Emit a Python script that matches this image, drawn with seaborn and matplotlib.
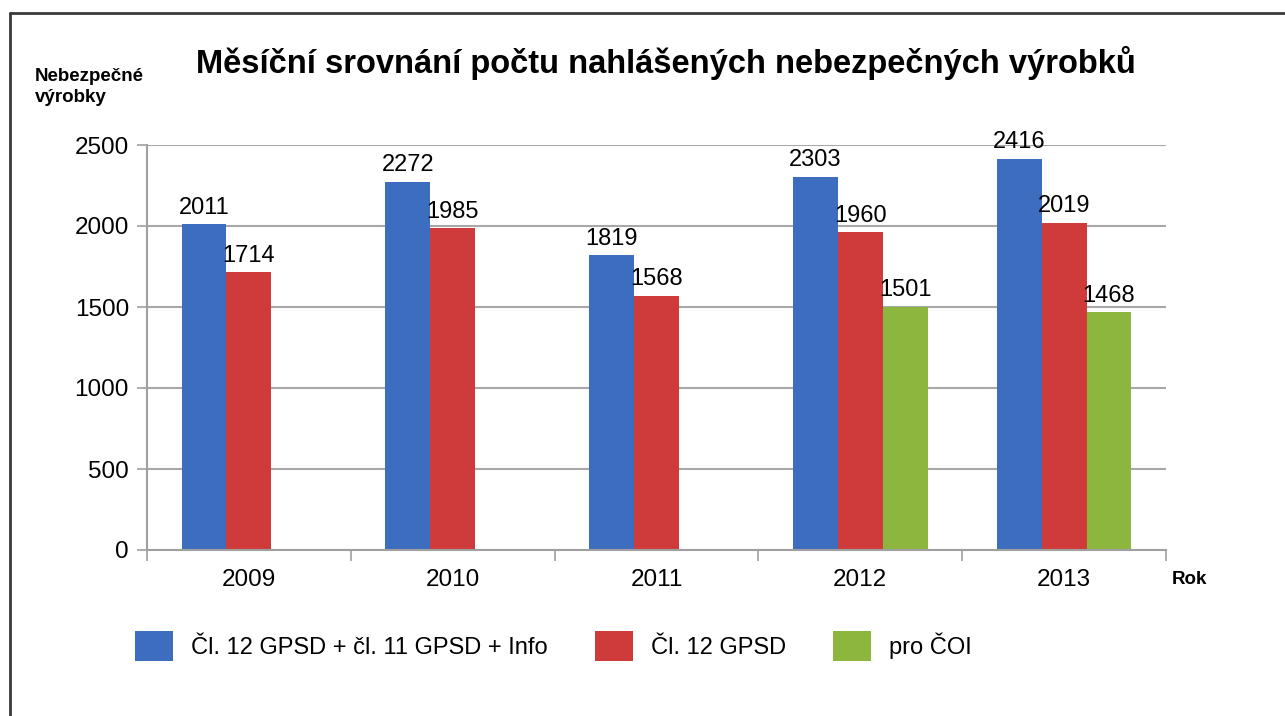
import matplotlib
matplotlib.use("Agg")
import matplotlib.pyplot as plt
import seaborn as sns
import pandas as pd
from matplotlib.patches import Patch
from matplotlib.lines import Line2D

years = ["2009", "2010", "2011", "2012", "2013"]
series_names = ["Čl. 12 GPSD + čl. 11 GPSD + Info", "Čl. 12 GPSD", "pro ČOI"]
vals_total = [2011, 2272, 1819, 2303, 2416]
vals_cl12 = [1714, 1985, 1568, 1960, 2019]
vals_coi_years = ["2012", "2013"]
vals_coi = [1501, 1468]
colors = ["#3D6DBE", "#CF3A3A", "#8CB63E"]
title = "Měsíční srovnání počtu nahlášených nebezpečných výrobků"
ylabel = "Nebezpečné\nvýrobky"
xlabel = "Rok"
yticks = [0, 500, 1000, 1500, 2000, 2500]

rows = []
for y, v in zip(years, vals_total):
    rows.append((y, series_names[0], v))
for y, v in zip(years, vals_cl12):
    rows.append((y, series_names[1], v))
for y, v in zip(vals_coi_years, vals_coi):
    rows.append((y, series_names[2], v))
df = pd.DataFrame(rows, columns=["Rok", "Serie", "Pocet"])

sns.set_theme(style="white")
plt.rcParams["font.family"] = ["Liberation Sans", "DejaVu Sans"]
plt.rcParams["text.color"] = "black"
plt.rcParams["xtick.color"] = "black"
plt.rcParams["ytick.color"] = "black"
plt.rcParams["axes.labelcolor"] = "black"

fig = plt.figure(figsize=(12.85, 7.16), dpi=100)
ax = fig.add_axes([147/1285, 1-550/716, (1166-147)/1285, (550-145)/716])

sns.barplot(data=df, x="Rok", y="Pocet", hue="Serie", order=years,
            hue_order=series_names, palette=colors, width=0.66,
            dodge=True, saturation=1, ax=ax, legend=False,
            edgecolor="none", errorbar=None)

for cont in ax.containers:
    ax.bar_label(cont, fmt="%d", padding=4, fontsize=17, color="black")

ax.set_ylim(0, 2500)
ax.set_xlim(-0.5, 4.5)
ax.set_yticks(yticks)
ax.set_yticklabels([str(t) for t in yticks], fontsize=17.5)
ax.tick_params(axis="y", which="major", length=7, width=1.2, color="#A0A0A0",
               labelcolor="black", left=True, pad=6)
ax.tick_params(axis="x", which="major", length=0, labelsize=17.5,
               labelcolor="black", pad=14)
ax.set_xticks([-0.5, 0.5, 1.5, 2.5, 3.5, 4.5], minor=True)
ax.tick_params(axis="x", which="minor", length=8, width=1.2, color="#A0A0A0",
               bottom=True)
ax.set_xlabel("")
ax.set_ylabel("")
ax.yaxis.grid(True, color="#A8A8A8", linewidth=1.5)
ax.set_axisbelow(True)
for s in ["top", "right"]:
    ax.spines[s].set_visible(False)
for s in ["left", "bottom"]:
    ax.spines[s].set_color("#A0A0A0")
    ax.spines[s].set_linewidth(1.5)

fig.text(0.518, 1-63/716, title, ha="center", va="center", fontsize=23.5,
         fontweight="bold", color="black")
fig.text(35/1285, 1-87/716, ylabel, ha="left", va="center", fontsize=13.5,
         fontweight="bold", linespacing=1.35, color="black")
fig.text(1172/1285, 1-580/716, xlabel, ha="left", va="center", fontsize=13.5,
         fontweight="bold", color="black")

handles = [Patch(facecolor=c, edgecolor="none") for c in colors]
fig.legend(handles, series_names, loc="center left",
           bbox_to_anchor=(114/1285, 1-646/716), ncol=3, frameon=False,
           fontsize=17, handlelength=1.6, handleheight=1.55,
           handletextpad=0.76, columnspacing=2.0, labelcolor="black")

fig.add_artist(Line2D([10/1285, 1.0], [1-13/716, 1-13/716],
                      transform=fig.transFigure, color="#3A3A3A", linewidth=2))
fig.add_artist(Line2D([10/1285, 10/1285], [0, 1-13/716],
                      transform=fig.transFigure, color="#3A3A3A", linewidth=2))

fig.savefig("out.png", dpi=100)
